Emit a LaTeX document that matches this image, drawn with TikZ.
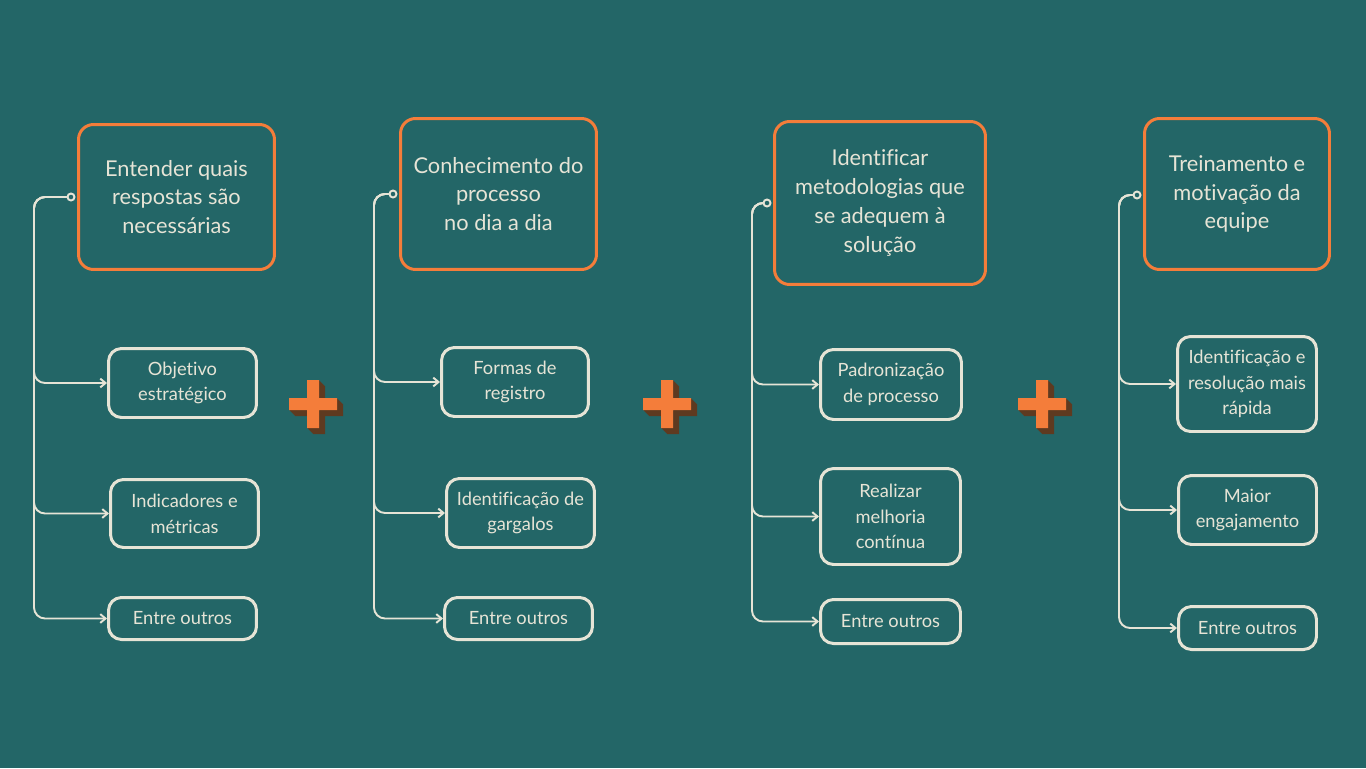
\documentclass[tikz,border=0pt]{standalone}
\usepackage{fontspec}
\setmainfont{Lato}[Ligatures={NoCommon}]
\usepackage{tikz}
\usetikzlibrary{arrows.meta}
\definecolor{bgteal}{HTML}{236667}
\definecolor{hdorange}{HTML}{F47D3A}
\definecolor{cream}{HTML}{E6E4D6}
\definecolor{plusshade}{HTML}{5E3A20}
\tikzset{
  headbox/.style = {draw=hdorange, line width=1.7pt, rounded corners=0.3cm,
    align=center, text=cream, inner sep=2pt,
    font=\fontsize{12.4}{16.4}\selectfont},
  itembox/.style = {draw=cream, line width=1.7pt, rounded corners=0.26cm,
    align=center, text=cream, inner sep=2pt,
    font=\fontsize{10.4}{14.7}\selectfont},
  startdot/.style = {circle, draw=cream, fill=bgteal, line width=1.1pt,
    inner sep=0pt, minimum size=0.14cm},
  branch/.style = {draw=cream, line width=1.1pt, rounded corners=0.22cm,
    -{Straight Barb[length=3pt,width=5pt]}},
  plussign/.pic = {
    \foreach \d in {0.5,1,...,6} {
      \fill[plusshade, shift={(\d,\d)}] (-6,-24) rectangle (6,24) (-24,-6) rectangle (24,6);
    }
    \fill[hdorange] (-6,-24) rectangle (6,24) (-24,-6) rectangle (24,6);
  }
}

\begin{document}
\begin{tikzpicture}[x=0.02cm, y=-0.02cm]
    \fill[bgteal] (0,0) rectangle (1366,768);
    \useasboundingbox (0,0) rectangle (1366,768);

    % first column
    \node[headbox, minimum width=3.92cm, minimum height=2.9cm] (h1) at (176.5,197)
        {Entender quais\\respostas são\\necessárias};
    \node[itembox, minimum width=2.96cm, minimum height=1.38cm] (a1) at (182.5,383) {Objetivo\\estratégico};
    \node[itembox, minimum width=2.96cm, minimum height=1.36cm] (a2) at (184.5,513.5) {Indicadores e\\métricas};
    \node[itembox, minimum width=2.96cm, minimum height=0.84cm] (a3) at (182.5,618.5) {Entre outros};
    \node[startdot] (d1) at (71,197) {};
    \coordinate (s1) at (34,197);
    \foreach \n in {a1,a2,a3} {
    \draw[branch] (d1.west) -- (s1) |- (\n.west);
    }

    % second column
    \node[headbox, minimum width=3.92cm, minimum height=3.02cm] (h2) at (498.5,194)
        {Conhecimento do\\processo\\no dia a dia};
    \node[itembox, minimum width=2.94cm, minimum height=1.38cm] (b1) at (515,382) {Formas de\\registro};
    \node[itembox, minimum width=2.96cm, minimum height=1.38cm] (b2) at (520.5,513) {Identificação de\\gargalos};
    \node[itembox, minimum width=2.96cm, minimum height=0.84cm] (b3) at (518.5,618.5) {Entre outros};
    \node[startdot] (d2) at (393,194) {};
    \coordinate (s2) at (374,194);
    \foreach \n in {b1,b2,b3} {
    \draw[branch] (d2.west) -- (s2) |- (\n.west);
    }

    % third column
    \node[headbox, minimum width=4.22cm, minimum height=3.26cm] (h3) at (880,203)
        {Identificar\\metodologias que\\se adequem à\\solução};
    \node[itembox, minimum width=2.82cm, minimum height=1.4cm] (c1) at (891,384.5) {Padronização\\de processo};
    \node[itembox, minimum width=2.8cm, minimum height=1.92cm] (c2) at (890.5,516.5) {Realizar\\melhoria\\contínua};
    \node[itembox, minimum width=2.8cm, minimum height=0.88cm] (c3) at (890.5,621.5) {Entre outros};
    \node[startdot] (d3) at (767,203) {};
    \coordinate (s3) at (752,203);
    \foreach \n in {c1,c2,c3} {
    \draw[branch] (d3.west) -- (s3) |- (\n.west);
    }

    % fourth column
    \node[headbox, minimum width=3.7cm, minimum height=3.02cm] (h4) at (1237,194)
        {Treinamento e\\motivação da\\equipe};
    \node[itembox, minimum width=2.78cm, minimum height=1.9cm] (e1) at (1247,384) {Identificação e\\resolução mais\\rápida};
    \node[itembox, minimum width=2.76cm, minimum height=1.38cm] (e2) at (1247.5,510) {Maior\\engajamento};
    \node[itembox, minimum width=2.76cm, minimum height=0.86cm] (e3) at (1247.5,628) {Entre outros};
    \node[startdot] (d4) at (1137,195) {};
    \coordinate (s4) at (1119,195);
    \foreach \n in {e1,e2,e3} {
    \draw[branch] (d4.west) -- (s4) |- (\n.west);
    }

    % plus signs between the columns
    \foreach \x in {313,667,1042} {
    \pic at (\x,404) {plussign};
    }
\end{tikzpicture}
\end{document}
